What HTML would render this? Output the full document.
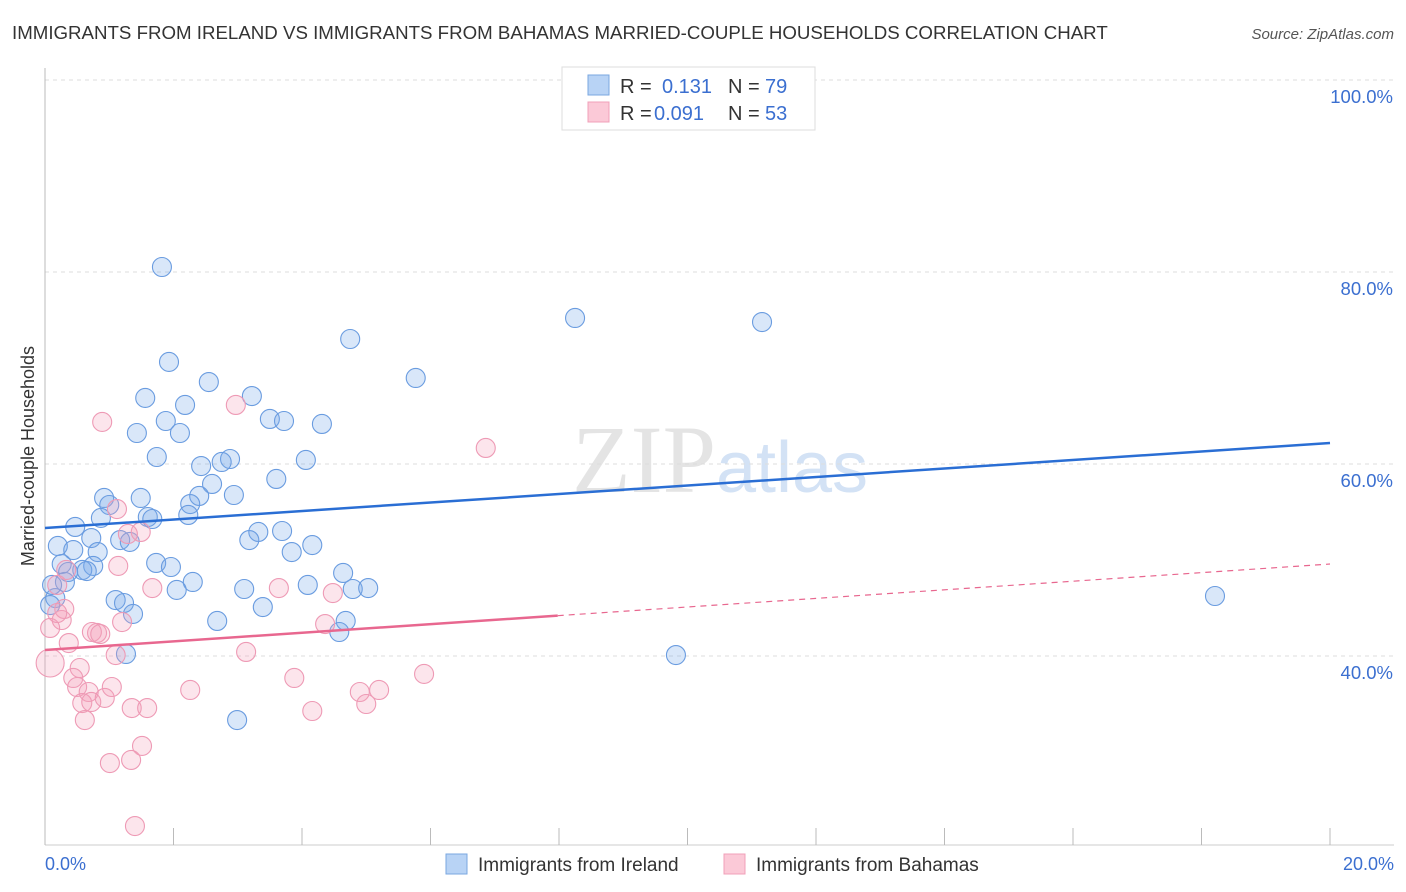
<!DOCTYPE html>
<html><head><meta charset="utf-8"><style>
body{margin:0;background:#fff;font-family:"Liberation Sans",sans-serif;}
svg{display:block}
</style></head><body>
<svg id="chart" width="1406" height="892">
<text x="12" y="39" font-size="18.7" fill="#333">IMMIGRANTS FROM IRELAND VS IMMIGRANTS FROM BAHAMAS MARRIED-COUPLE HOUSEHOLDS CORRELATION CHART</text>
<text x="1394" y="39" font-size="15" fill="#555" font-style="italic" text-anchor="end">Source: ZipAtlas.com</text>
<text x="720" y="492" font-size="96" fill="#e4e4e4" text-anchor="middle" font-family="Liberation Serif">ZIP<tspan fill="#d3e2f5" font-family="Liberation Sans" font-size="72">atlas</tspan></text>
<g id="grid"></g>
<g id="axes"></g>
<g id="pts"></g>
<g id="lines"></g>
<text x="34" y="456" font-size="18" fill="#333" text-anchor="middle" transform="rotate(-90 34 456)">Married-couple Households</text>
<text x="45" y="870" font-size="18" fill="#3b6fd0">0.0%</text>
<text x="1394" y="870" font-size="18" fill="#3b6fd0" text-anchor="end">20.0%</text>
<g>
<rect x="562" y="67" width="253" height="63" fill="#fff" stroke="#ddd"/>
<rect x="588" y="75" width="21" height="20" fill="#b8d3f5" stroke="#7aa7e0"/>
<rect x="588" y="102" width="21" height="20" fill="#fbc9d7" stroke="#f0a0b8"/>
<text x="620" y="93" font-size="20" fill="#333">R =</text><text x="662" y="93" font-size="20" fill="#3b6fd0">0.131</text>
<text x="728" y="93" font-size="20" fill="#333">N =</text><text x="765" y="93" font-size="20" fill="#3b6fd0">79</text>
<text x="620" y="120" font-size="20" fill="#333">R =</text><text x="654" y="120" font-size="20" fill="#3b6fd0">0.091</text>
<text x="728" y="120" font-size="20" fill="#333">N =</text><text x="765" y="120" font-size="20" fill="#3b6fd0">53</text>
</g>
<g>
<rect x="446" y="854" width="21" height="20" fill="#b8d3f5" stroke="#7aa7e0"/>
<text x="478" y="871" font-size="19" fill="#333">Immigrants from Ireland</text>
<rect x="724" y="854" width="21" height="20" fill="#fbc9d7" stroke="#f0a0b8"/>
<text x="756" y="871" font-size="19" fill="#333">Immigrants from Bahamas</text>
</g>
</svg>
<script>
const yTicks=[100,80,60,40];
const yTickLabels=["100.0%","80.0%","60.0%","40.0%"];
const xTicks=[0,2,4,6,8,10,12,14,16,18,20];
const irelandX=[1.82,8.25,11.16,4.75,1.93,5.77,2.55,3.22,1.56,2.18,1.88,3.50,3.72,4.31,1.43,2.10,1.74,2.43,2.88,2.75,4.06,2.60,3.60,0.92,1.49,2.94,2.40,1.00,2.26,1.60,0.87,2.23,1.67,0.47,3.32,3.69,3.18,1.17,1.32,0.72,0.20,0.44,0.82,3.84,4.16,1.73,1.96,0.26,0.75,0.58,0.65,0.36,4.64,2.30,4.09,2.05,3.10,4.79,5.03,0.31,1.10,1.23,3.39,0.16,1.37,4.68,2.68,4.58,1.26,9.82,2.99,18.21,0.08,0.11];
const irelandY=[80.52,75.21,74.79,73.02,70.63,68.96,68.54,67.08,66.88,66.15,64.48,64.69,64.48,64.17,63.23,63.23,60.73,59.79,60.52,60.21,60.42,57.92,58.44,56.46,56.46,56.77,56.67,55.73,55.83,54.48,54.38,54.69,54.27,53.44,52.92,53.02,52.08,52.08,51.88,52.29,51.46,51.04,50.83,50.83,51.56,49.69,49.27,49.58,49.38,48.96,48.85,48.75,48.65,47.71,47.40,46.88,46.98,46.98,47.08,47.71,45.83,45.52,45.10,46.04,44.38,43.65,43.65,42.50,40.21,40.10,33.33,46.25,45.31,47.40];
const bahamasX=[2.97,0.89,6.86,1.12,1.49,1.29,1.14,1.67,3.64,4.48,4.36,3.13,1.20,2.26,3.88,4.16,4.90,5.00,5.20,5.90,1.51,1.34,1.01,1.40,0.37,0.54,0.44,0.50,0.68,0.58,0.72,0.93,1.04,0.62,0.81,0.73,0.86,1.10,1.35,1.59,0.30,0.26,0.08,0.19,0.33,0.19,0.08];
const bahamasY=[66.15,64.38,61.67,55.31,52.92,52.71,49.38,47.08,47.08,46.56,43.33,40.42,43.54,36.46,37.71,34.27,36.25,35.00,36.46,38.13,30.63,29.17,28.85,22.29,41.35,38.75,37.71,36.77,36.25,35.10,35.21,35.63,36.77,33.33,42.40,42.50,42.29,40.10,34.58,34.58,44.90,43.75,42.92,44.48,48.96,47.40,39.27];
const irelandTrend=[53.33,62.19];
const bahamasTrend=[40.63,49.58];
const bahamasSolidEnd=7.98;

const NS="http://www.w3.org/2000/svg";
const X0=45,X1=1330;
function sx(v){return X0+(X1-X0)*v/20;}
function sy(v){return 80+(100-v)*9.6;}
function mk(tag,attrs,parent){const e=document.createElementNS(NS,tag);for(const k in attrs)e.setAttribute(k,attrs[k]);document.getElementById(parent).appendChild(e);return e;}
yTicks.forEach((t,i)=>{
  const l=mk('line',{x1:X0,x2:1394,y1:sy(t),y2:sy(t),stroke:'#ddd','stroke-dasharray':'4,4'},'grid');
  
  
  const tx=mk('text',{x:1393,y:sy(t)+23,'font-size':18.5,fill:'#3b6fd0','text-anchor':'end'},'grid');
  tx.textContent=yTickLabels[i];
  
  
});
const ax=mk('line',{x1:X0,x2:X0,y1:68,y2:845,stroke:'#bbb'},'axes');


const bx=mk('line',{x1:X0,x2:1394,y1:845,y2:845,stroke:'#ccc'},'axes');


xTicks.forEach(t=>{
  const l=mk('line',{x1:sx(t),x2:sx(t),y1:828,y2:845,stroke:'#bbb'},'axes');
  
  
});
irelandX.forEach((x,i)=>{
  const c=mk('circle',{cx:sx(x),cy:sy(irelandY[i]),r:9.5,fill:'rgba(120,168,232,0.28)',stroke:'#6a9ce0','stroke-width':1.1},'pts');
  
  
});
bahamasX.forEach((x,i)=>{
  const big=(i===bahamasX.length-1);
  const c=mk('circle',{cx:sx(x),cy:sy(bahamasY[i]),r:big?14:9.5,fill:'rgba(244,160,188,0.28)',stroke:'#ee9ab5','stroke-width':1.1},'pts');
  
  
});
const t1=mk('line',{x1:sx(0),y1:sy(irelandTrend[0]),x2:sx(20),y2:sy(irelandTrend[1]),stroke:'#2a6ed4','stroke-width':2.5},'lines');


const pe=bahamasTrend[0]+(bahamasTrend[1]-bahamasTrend[0])*bahamasSolidEnd/20;
const t2=mk('line',{x1:sx(0),y1:sy(bahamasTrend[0]),x2:sx(bahamasSolidEnd),y2:sy(pe),stroke:'#e8678f','stroke-width':2.5},'lines');


const t3=mk('line',{x1:sx(bahamasSolidEnd),y1:sy(pe),x2:sx(20),y2:sy(bahamasTrend[1]),stroke:'#e8678f','stroke-width':1.2,'stroke-dasharray':'6,5'},'lines');


</script>
</body></html>
